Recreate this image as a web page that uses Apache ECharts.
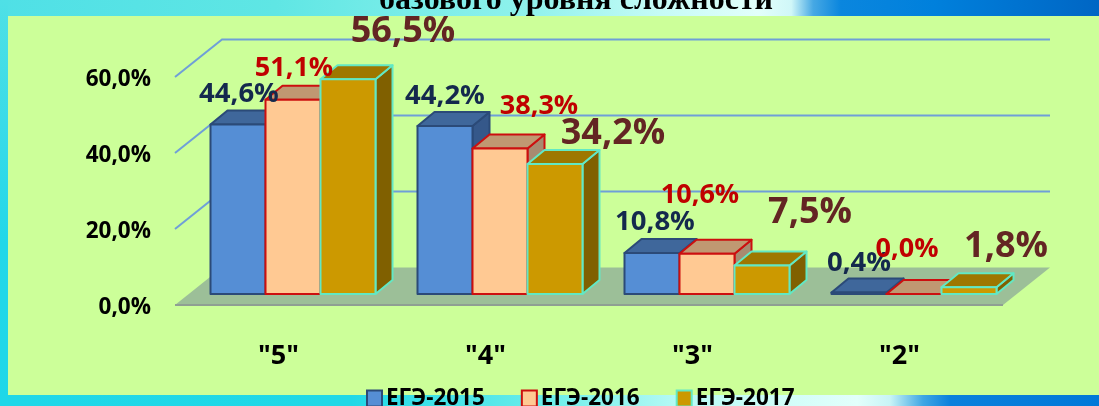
<!DOCTYPE html>
<html><head><meta charset="utf-8">
<style>
html,body{margin:0;padding:0;width:1099px;height:406px;overflow:hidden;}
body{background:
 linear-gradient(180deg,#4fe0e6 0%,#3adbe8 30%,#22d7e8 60%,#1fd7e8 100%) left top/8px 100% no-repeat,
 linear-gradient(90deg,#4fe0e6 0%,#5fe6e4 25%,#8ff2ec 48%,#c5fbf6 60%,#e2fffb 69%,#d0f7f8 72%,#46a8e4 74%,#0a86de 76.5%,#0080dc 85%,#0066c4 100%) top/100% 50% no-repeat,
 linear-gradient(90deg,#1fd7e8 0%,#20d8e6 32%,#6ceeea 50%,#b8faf5 62%,#e2fffb 78%,#c8f4f6 81%,#3ea6e4 84%,#0a80dc 86.5%,#0078d8 100%) bottom/100% 50% no-repeat;}
#c{width:1099px;height:406px;}
</style>
<script src="https://cdn.jsdelivr.net/npm/echarts@6/dist/echarts.min.js"></script>
</head><body><div id="c"></div>
<script>
const categories = ['"5"','"4"','"3"','"2"'];
const seriesNames = ['ЕГЭ-2015','ЕГЭ-2016','ЕГЭ-2017'];
const ege2015 = [44.6,44.2,10.8,0.4];
const ege2016 = [51.1,38.3,10.6,0.0];
const ege2017 = [56.5,34.2,7.5,1.8];
const yTicks = [0,20,40,60];
const titleText = 'базового уровня сложности';

// styling
const FONT = '"Open Sans","Noto Sans",sans-serif';
const wallDX = 47, wallDY = -37.5;       // depth of the chart box
const barDX = 17, barDY = -14;           // depth of a bar
const baseDX = 14.5, baseDY = -11;       // bar front plane from the axis plane
const barW = 55;
const styles = [
 {front:'#558ed5',top:'#3f679b',side:'#35588a',stroke:'#2b4a78',text:'#14294d',size:27.5},
 {front:'#ffc993',top:'#c09872',side:'#a88a70',stroke:'#cc0f0f',text:'#c00000',size:27},
 {front:'#cc9900',top:'#9e7700',side:'#806000',stroke:'#62e8c4',text:'#632523',size:36}
];
const labelOffsets = [
 [[1,-30],[0,-30],[3,-31],[0,-29]],
 [[1,-32],[39,-42],[-7,-58],[-7,-45]],
 [[55,-48],[58,-30],[48,-53],[37,-40]]
];
const fmt = v => v.toFixed(1).replace('.',',') + '%';

function wall(params, api){
  const band = api.size([1,0])[0];
  const x0 = api.coord([0,0])[0]-band/2, x1 = api.coord([categories.length-1,0])[0]+band/2;
  const y0 = api.coord([0,0])[1];
  const ch = [];
  ch.push({type:'polygon',shape:{points:[[x0,y0],[x0+wallDX,y0+wallDY],[x1+wallDX,y0+wallDY],[x1,y0]]},
    style:{fill:'#9cbf98'}});
  ch.push({type:'line',shape:{x1:x0,y1:y0,x2:x1,y2:y0},style:{stroke:'#8f9f93',lineWidth:2}});
  yTicks.slice(1).forEach(t=>{
    const y = api.coord([0,t])[1];
    ch.push({type:'polyline',shape:{points:[[x0,y],[x0+wallDX,y+wallDY],[x1+wallDX,y+wallDY]]},
      style:{stroke:'#6f9fd8',lineWidth:2,fill:null}});
  });
  return {type:'group',children:ch};
}
function bar(si){
  return function(params, api){
    const c = api.value(0), v = api.value(1);
    const base = api.coord([c,0]), top = api.coord([c,v]);
    const s = styles[si];
    const xl = base[0]+baseDX-barW*1.5+si*barW, xr = xl+barW;
    const yb = base[1]+baseDY, yt = top[1]+baseDY;
    const st = (fill)=>({fill:fill,stroke:s.stroke,lineWidth:2,lineJoin:'round'});
    return {type:'group',children:[
      {type:'polygon',shape:{points:[[xr,yb],[xr+barDX,yb+barDY],[xr+barDX,yt+barDY],[xr,yt]]},style:st(s.side)},
      {type:'polygon',shape:{points:[[xl,yt],[xl+barDX,yt+barDY],[xr+barDX,yt+barDY],[xr,yt]]},style:st(s.top)},
      {type:'rect',shape:{x:xl,y:yt,width:barW,height:yb-yt},style:st(s.front)}
    ]};
  };
}
function label(si){
  return function(params, api){
    const c = api.value(0), v = api.value(1);
    const base = api.coord([c,0]), top = api.coord([c,v]);
    const s = styles[si], o = labelOffsets[si][c];
    const xl = base[0]+baseDX-barW*1.5+si*barW;
    return {type:'text',style:{x:xl+barW/2+o[0],y:top[1]+baseDY+o[1],text:fmt(v),
      align:'center',verticalAlign:'middle',fill:s.text,
      font:'700 '+s.size+'px '+FONT}};
  };
}
const allValues = [ege2015,ege2016,ege2017];
const pairs = a => a.map((v,i)=>[i,v]);
const series = [{type:'custom',name:'wall',silent:true,z:1,renderItem:wall,data:[[0,0]],encode:{x:0,y:1}}];
allValues.forEach((vals,si)=>{
  series.push({type:'custom',name:seriesNames[si],z:2+si,renderItem:bar(si),data:pairs(vals),encode:{x:0,y:1},
    itemStyle:{color:styles[si].front,borderColor:styles[si].stroke,borderWidth:2}});
});
allValues.forEach((vals,si)=>{
  series.push({type:'custom',name:'labels'+si,z:10,renderItem:label(si),data:pairs(vals),encode:{x:0,y:1}});
});
const chart = echarts.init(document.getElementById('c'),null,{renderer:'canvas'});
chart.setOption({
  animation:false,
  backgroundColor:'transparent',
  title:{text:titleText,left:571,top:-20,textAlign:'center',
    textStyle:{fontFamily:'"Liberation Serif",serif',fontWeight:'bold',fontSize:32,color:'#000'}},
  graphic:[{type:'rect',z:-1,silent:true,shape:{x:8,y:16,width:1091,height:379},style:{fill:'#ccff99'}}],
  grid:{left:175,width:828,top:77,height:228,containLabel:false},
  xAxis:{type:'category',data:categories,axisLine:{show:false},axisTick:{show:false},
    axisLabel:{margin:38,fontFamily:FONT,fontWeight:700,fontSize:27,color:'#000'}},
  yAxis:{type:'value',min:0,max:60,interval:20,splitLine:{show:false},axisLine:{show:false},axisTick:{show:false},
    axisLabel:{margin:24,fontFamily:FONT,fontWeight:700,fontSize:22.5,color:'#000',verticalAlign:'top',lineHeight:6,
      formatter:v=>v.toFixed(1).replace('.',',')+'%'}},
  legend:{data:seriesNames,left:361,top:382,itemWidth:15,itemHeight:16,itemGap:36,icon:'rect',
    textStyle:{fontFamily:FONT,fontWeight:700,fontSize:22.5,color:'#000',padding:[0,0,0,-1]}},
  series:series
});
</script></body></html>
